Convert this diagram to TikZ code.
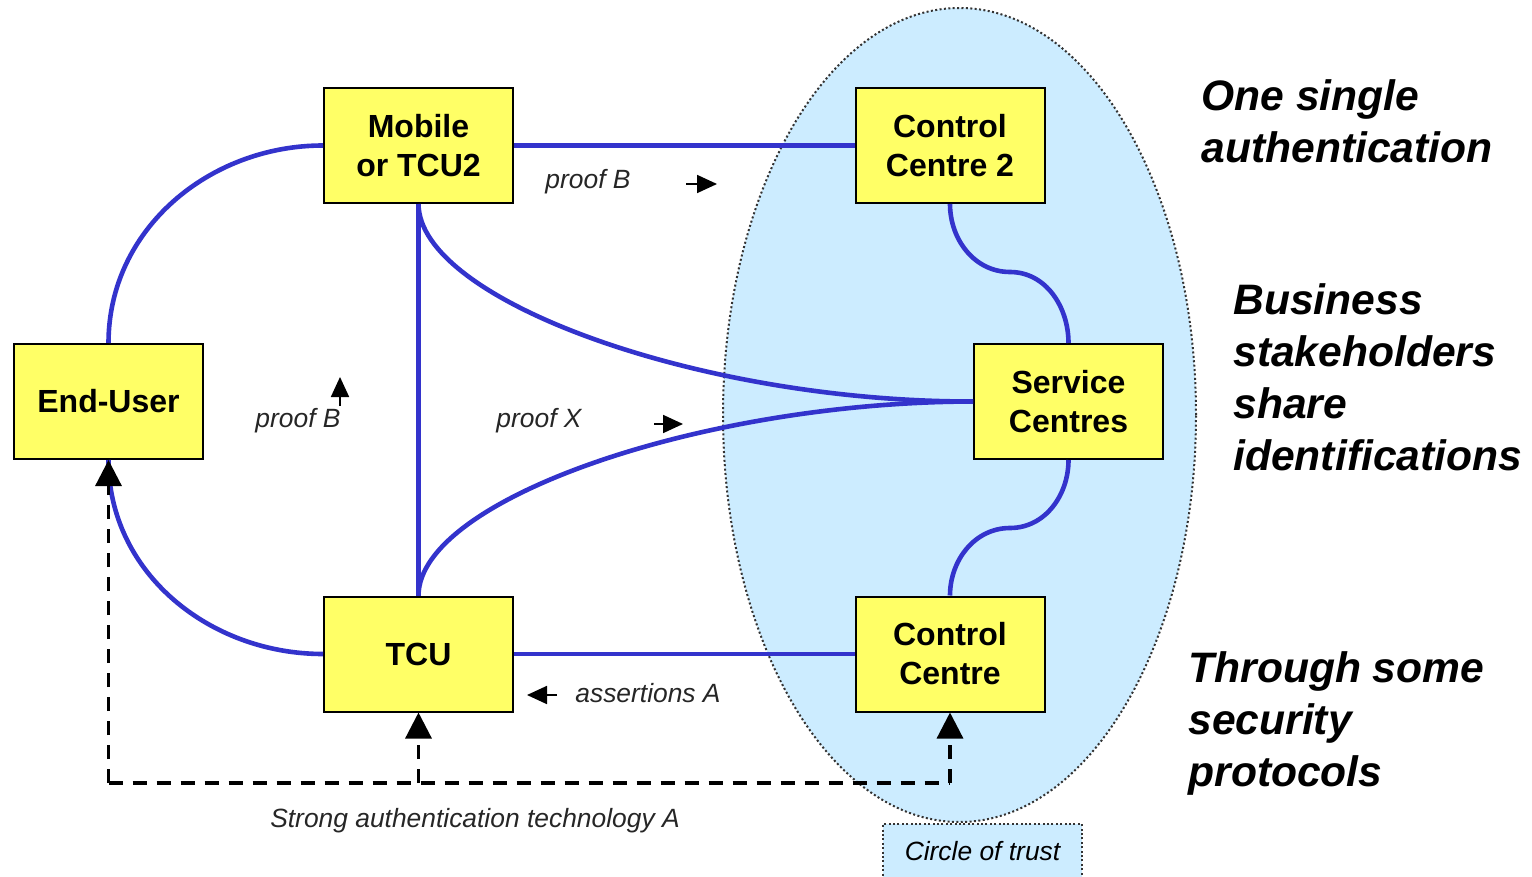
\documentclass[tikz,border=0pt]{standalone}
\usepackage{fontspec}
\setmainfont{Liberation Sans}
\usetikzlibrary{arrows.meta,shapes.geometric}
\definecolor{linkblue}{RGB}{51,51,204}
\definecolor{boxyellow}{RGB}{255,255,102}
\definecolor{trustblue}{RGB}{204,236,255}
\begin{document}
\begin{tikzpicture}[x=0.5pt,y=-0.5pt,
 entity/.style={draw=black,line width=1pt,fill=boxyellow,minimum width=94.5pt,minimum height=57.5pt,inner sep=0pt,align=center,font=\fontsize{16}{19.5}\selectfont\bfseries},
 link/.style={draw=linkblue,line width=2.3pt},
 auth/.style={draw=black,line width=1.6pt,dash pattern=on 7pt off 5pt},
 bighead/.style={-{Triangle[width=13pt,length=13pt]}},
 smallarrow/.style={draw=black,line width=0.9pt,-{Triangle[width=9pt,length=10pt]}},
 lbl/.style={font=\fontsize{13.2}{16}\selectfont\itshape,text=black!85},
 trustline/.style={draw=black!80,line width=1pt,dash pattern=on 1pt off 1.2pt},
 side/.style={font=\fontsize{21.3}{26}\selectfont\bfseries\itshape,align=left,anchor=north west,inner sep=0pt}]
\useasboundingbox (0,0) rectangle (1532,877);
% circle of trust
\path[fill=trustblue,trustline] (959.5,415) ellipse [x radius=118.25pt, y radius=203.5pt];
\node[trustline,fill=trustblue,minimum width=99.5pt,minimum height=27pt,inner sep=0pt,lbl,text=black] (cot) at (982.5,851) {Circle of trust};
% boxes
\node[entity] (mob) at (418.5,145.5) {Mobile\\or TCU2};
\node[entity] (cc2) at (950,145.5) {Control\\Centre 2};
\node[entity] (eu) at (108.5,401.5) {End-User};
\node[entity] (sc) at (1068.5,401.5) {Service\\Centres};
\node[entity] (tcu) at (418.5,654) {TCU};
\node[entity] (cc) at (950,654) {Control\\Centre};
% blue links
\draw[link] (mob.east) -- (cc2.west);
\draw[link] (tcu.east) -- (cc.west);
\draw[link] (mob.south) -- (tcu.north);
\draw[link] (eu.north) to[out=90,in=180] (mob.west);
\draw[link] (eu.south) to[out=-90,in=180] (tcu.west);
\draw[link] (mob.south) .. controls (419,300) and (700,402) .. (sc.west);
\draw[link] (tcu.north) .. controls (419,500) and (700,402) .. (sc.west);
\coordinate (s1) at (1010,272);
\coordinate (s2) at (1010,528);
\draw[link] (cc2.south) to[out=-90,in=180] (s1) to[out=0,in=90] (sc.north);
\draw[link] (sc.south) to[out=-90,in=0] (s2) to[out=180,in=90] (cc.north);
% dashed authentication lines
\coordinate (dl) at (108.5,783);
\coordinate (dm) at (418.5,783);
\coordinate (dr) at (950,783);
\draw[auth] (dl) -- (dr);
\draw[auth,bighead] (dl) -- (eu.south);
\draw[auth,bighead] (dm) -- (tcu.south);
\draw[auth,bighead] (dr) -- (cc.south);
% small arrows
\coordinate (a1s) at (686,184); \coordinate (a1e) at (717,184);
\coordinate (a2s) at (340,406); \coordinate (a2e) at (340,377);
\coordinate (a3s) at (654,424); \coordinate (a3e) at (683,424);
\coordinate (a4s) at (557,695); \coordinate (a4e) at (527,695);
\draw[smallarrow] (a1s) -- (a1e);
\draw[smallarrow] (a2s) -- (a2e);
\draw[smallarrow] (a3s) -- (a3e);
\draw[smallarrow] (a4s) -- (a4e);
% labels
\node[lbl] (lb1) at (588,182) {proof B};
\node[lbl] (lb2) at (298,421) {proof B};
\node[lbl] (lx) at (539,421) {proof X};
\node[lbl] (la) at (648,693) {assertions A};
\node[lbl] (ls) at (475,821) {Strong authentication technology A};
% side texts
\node[side] (t1) at (1201,79) {One single\\authentication};
\node[side] (t2) at (1233,283) {Business\\stakeholders\\share\\identifications};
\node[side] (t3) at (1188,651) {Through some\\security\\protocols};
\end{tikzpicture}
\end{document}
